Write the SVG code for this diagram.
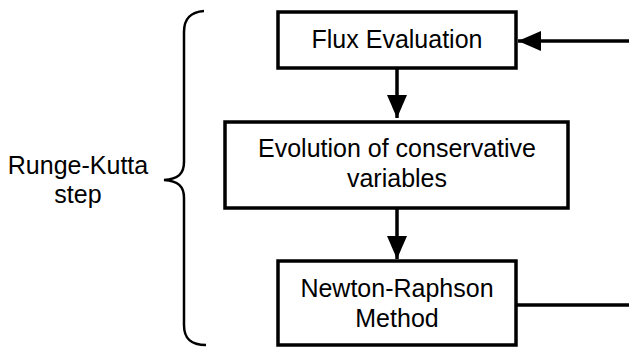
<svg xmlns="http://www.w3.org/2000/svg" width="629" height="347" viewBox="0 0 629 347">
<defs>
<style>
.box{fill:#fff;stroke:#000;stroke-width:3.5}
.t{font-family:"Liberation Sans",Arial,sans-serif;font-size:25px;fill:#000;text-anchor:middle}
.c{fill:none;stroke:#000;stroke-width:3.5}
.br{fill:none;stroke:#000;stroke-width:2.5}
</style>
<marker id="ah" markerUnits="userSpaceOnUse" markerWidth="24" markerHeight="20" refX="23" refY="10" orient="auto">
<path d="M0,0 L23,10 L0,20 Z" fill="#000"/>
</marker>
</defs>
<rect width="629" height="347" fill="#fff"/>
<g id="brace">
<path class="br" d="M204,11 C191,12 184,18 184,32 L184,162 C184,174 178,179 164,180 C178,181 184,186 184,198 L184,325 C184,339 191,345 206,345"/>
</g>
<g id="label">
<text class="t" x="78" y="174">Runge-Kutta</text>
<text class="t" x="78" y="203">step</text>
</g>
<g id="connectors">
<path class="c" d="M397,68 L397,118" marker-end="url(#ah)"/>
<path class="c" d="M397,208 L397,259" marker-end="url(#ah)"/>
<path class="c" d="M629,41 L518,41" marker-end="url(#ah)"/>
<path class="c" d="M516,305 L629,305"/>
</g>
<g id="n1">
<rect class="box" x="278" y="12" width="238" height="56"/>
<text class="t" x="397" y="48">Flux Evaluation</text>
</g>
<g id="n2">
<rect class="box" x="225" y="122" width="343" height="86"/>
<text class="t" x="397" y="157">Evolution of conservative</text>
<text class="t" x="397" y="187">variables</text>
</g>
<g id="n3">
<rect class="box" x="278" y="261" width="238" height="84"/>
<text class="t" x="397" y="297">Newton-Raphson</text>
<text class="t" x="397" y="327">Method</text>
</g>
</svg>
